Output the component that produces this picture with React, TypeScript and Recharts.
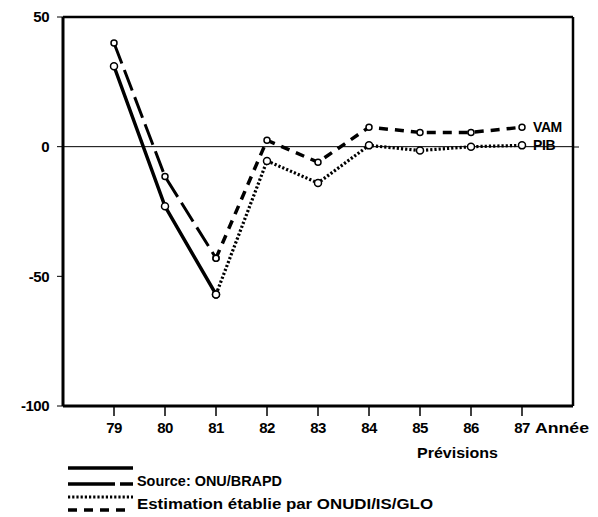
import React from 'react';
import { LineChart, Line, XAxis, YAxis, ReferenceLine, LabelList, Customized } from 'recharts';

const years = [79, 80, 81, 82, 83, 84, 85, 86, 87];
const pibSource = [31, -23, -57, null, null, null, null, null, null];
const vamSource = [40, -11.5, -43, null, null, null, null, null, null];
const pibEstim = [null, null, -57, -5.5, -14, 0.5, -1.5, 0, 0.5];
const vamEstim = [null, null, -43, 2.5, -6, 7.5, 5.5, 5.5, 7.5];
const yTicks = [50, 0, -50, -100];
const seriesLabels = { vam: 'VAM', pib: 'PIB' };
const legendTexts = ['Source: ONU/BRAPD', 'Estimation établie par ONUDI/IS/GLO'];
const xUnit = 'Année';
const xNote = 'Prévisions';

const data = years.map((y, i) => ({
  year: y,
  pibSource: pibSource[i],
  vamSource: vamSource[i],
  pibEstim: pibEstim[i],
  vamEstim: vamEstim[i],
}));

const FONT = '"Liberation Sans", Arial, sans-serif';
const dotStyle = { r: 3.5, fill: '#fff', stroke: '#000', strokeWidth: 1.5, strokeDasharray: '0' };
const smallDot = { r: 3, fill: '#fff', stroke: '#000', strokeWidth: 1.5, strokeDasharray: '0' };

const endLabel = (text: string) => (props: any) => {
  if (props.index !== years.length - 1) return null;
  return (
    <text x={props.x + 11} y={props.y} dy="0.35em" fontFamily={FONT} fontWeight="bold" fontSize={14} fill="#000" letterSpacing={-0.4}>
      {text}
    </text>
  );
};

const Extras = () => (
  <g>
    <text x={527} y={414} dy="0.71em" fontFamily={FONT} fontWeight="bold" fontSize={15} textLength={54} lengthAdjust="spacingAndGlyphs" fill="#000">{xUnit}</text>
    <text x={409} y={445} dy="0.35em" fontFamily={FONT} fontWeight="bold" fontSize={15} textLength={81} lengthAdjust="spacingAndGlyphs" fill="#000">{xNote}</text>
    <line x1={565} x2={571} y1={139} y2={139} stroke="#000" strokeWidth={1} />
    <line x1={60} x2={125} y1={460} y2={460} stroke="#000" strokeWidth={3.5} />
    <line x1={60} x2={125} y1={476} y2={476} stroke="#000" strokeWidth={3.5} strokeDasharray="47 5 13 5" />
    <line x1={60} x2={125} y1={489} y2={489} stroke="#000" strokeWidth={3} strokeDasharray="2.2 2" />
    <line x1={60} x2={123} y1={502} y2={502} stroke="#000" strokeWidth={3.5} strokeDasharray="9 7" />
    <text x={129} y={473} dy="0.35em" fontFamily={FONT} fontWeight="bold" fontSize={14} textLength={145} lengthAdjust="spacingAndGlyphs" fill="#000">{legendTexts[0]}</text>
    <text x={129} y={496} dy="0.35em" fontFamily={FONT} fontWeight="bold" fontSize={14} textLength={296} lengthAdjust="spacingAndGlyphs" fill="#000">{legendTexts[1]}</text>
  </g>
);

export default function App() {
  return (
    <LineChart width={590} height={509} data={data} margin={{ top: 9, right: 25, bottom: 81, left: 0 }}>
      <XAxis
        dataKey="year"
        type="number"
        domain={[78, 88]}
        ticks={years}
        allowDataOverflow
        height={30}
        axisLine={{ stroke: '#000', strokeWidth: 3 }}
        tickLine={{ stroke: '#000', strokeWidth: 1.5 }}
        tickSize={10}
        tickMargin={6}
        tick={{ fill: '#000', fontFamily: FONT, fontWeight: 'bold', fontSize: 15, letterSpacing: -0.5 }}
      />
      <YAxis
        type="number"
        domain={[-100, 50]}
        ticks={yTicks}
        width={55}
        axisLine={{ stroke: '#000', strokeWidth: 3 }}
        tickLine={{ stroke: '#000', strokeWidth: 1 }}
        tickSize={6}
        tickMargin={8}
        tick={{ fill: '#000', fontFamily: FONT, fontWeight: 'bold', fontSize: 15, letterSpacing: -0.5 }}
      />
      <ReferenceLine y={0} stroke="#000" strokeWidth={1} />
      <ReferenceLine y={50} stroke="#000" strokeWidth={2.5} />
      <ReferenceLine x={88} stroke="#000" strokeWidth={2.5} />
      <Line dataKey="pibSource" stroke="#000" strokeWidth={3.5} dot={dotStyle} isAnimationActive={false} connectNulls={false} />
      <Line dataKey="vamSource" stroke="#000" strokeWidth={3} strokeDasharray="22 7" dot={smallDot} isAnimationActive={false} connectNulls={false} />
      <Line dataKey="pibEstim" stroke="#000" strokeWidth={3.2} strokeDasharray="2.2 2" dot={dotStyle} isAnimationActive={false} connectNulls={false}>
        <LabelList dataKey="pibEstim" content={endLabel(seriesLabels.pib)} />
      </Line>
      <Line dataKey="vamEstim" stroke="#000" strokeWidth={3.5} strokeDasharray="9 7" dot={smallDot} isAnimationActive={false} connectNulls={false}>
        <LabelList dataKey="vamEstim" content={endLabel(seriesLabels.vam)} />
      </Line>
      <Customized component={Extras} />
    </LineChart>
  );
}
